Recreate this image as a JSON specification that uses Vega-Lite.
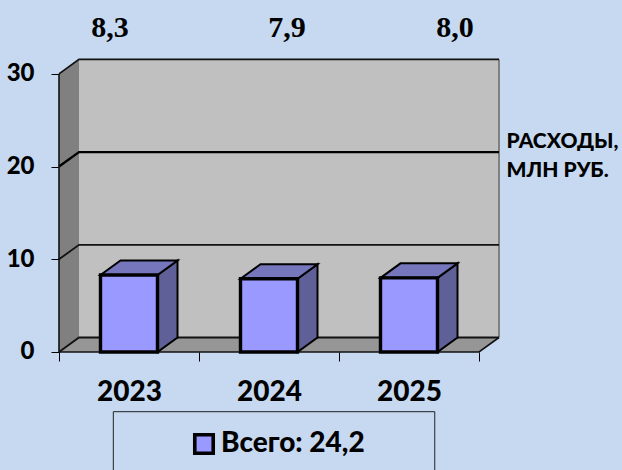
{
"$schema":"https://vega.github.io/schema/vega-lite/v6.json",
"width":622,"height":470,"padding":0,"autosize":"none",
"background":"#C6D9F1",
"config":{"view":{"stroke":null}},
"datasets":{
"bars":[{"year":2023,"value":8.3,"series":"Всего: 24,2"},{"year":2024,"value":7.9,"series":"Всего: 24,2"},{"year":2025,"value":8.0,"series":"Всего: 24,2"}],
"two":[{"t":0},{"t":1}],
"four":[{"t":0},{"t":1},{"t":2},{"t":3}],
"grid":[{"g":0,"t":0},{"g":0,"t":1},{"g":0,"t":2},{"g":10,"t":0},{"g":10,"t":1},{"g":10,"t":2},{"g":20,"t":0},{"g":20,"t":1},{"g":20,"t":2},{"g":30,"t":0},{"g":30,"t":1},{"g":30,"t":2}]
},
"encoding":{
"x":{"field":"X","type":"quantitative","scale":{"domain":[-0.42143,4.02143],"nice":false,"zero":false},
"axis":{"title":null,"orient":"bottom","offset":-118,"domain":false,"grid":false,"values":[0,0.5,1,1.5,2,2.5,3],"tickSize":9,"tickColor":"#000000","tickWidth":1,"tickOpacity":{"condition":{"test":"datum.value % 1 == 0","value":1},"value":0},"labelExpr":"datum.value==0.5?'2023':datum.value==1.5?'2024':datum.value==2.5?'2025':''","labelFont":"Lato","labelFontWeight":900,"labelFontSize":28,"labelColor":"#000000","labelPadding":17,"labelOverlap":false,"labelBound":false,"labelFlush":false}},
"y":{"field":"Y","type":"quantitative","scale":{"domain":[-12.73,37.97],"nice":false,"zero":false},
"axis":{"title":["РАСХОДЫ,","МЛН РУБ."],"titleAngle":0,"titleAlign":"left","titleBaseline":"alphabetic","titleX":447,"titleY":147,"titleFont":"Lato","titleFontWeight":900,"titleFontSize":21,"titleLineHeight":29,"titleColor":"#000000","orient":"left","offset":-59,"domain":false,"grid":false,"values":[0,10,20,30],"tickSize":8,"tickColor":"#000000","tickWidth":1,"labelFont":"Lato","labelFontWeight":900,"labelFontSize":24,"labelColor":"#000000","labelPadding":17,"labelOverlap":false,"labelBound":false,"labelFlush":false}}
},
"layer":[
{"data":{"name":"two"},"transform":[{"calculate":"0.142857+3*datum.t","as":"X"},{"calculate":"31.564","as":"Y"},{"calculate":"1.564","as":"Y2"}],
"mark":{"type":"area","fill":"#C0C0C0"},"encoding":{"y2":{"field":"Y2"}}},
{"data":{"name":"two"},"transform":[{"calculate":"0.142857*datum.t","as":"X"},{"calculate":"30+1.564*datum.t","as":"Y"},{"calculate":"1.564*datum.t","as":"Y2"}],
"mark":{"type":"area","fill":"#808080"},"encoding":{"y2":{"field":"Y2"}}},
{"data":{"name":"four"},"transform":[{"calculate":"[0,0.142857,3,3.142857][datum.t]","as":"X"},{"calculate":"datum.t==0?0:1.564","as":"Y"},{"calculate":"datum.t==3?1.564:0","as":"Y2"}],
"mark":{"type":"area","fill":"#969696"},"encoding":{"y2":{"field":"Y2"}}},
{"data":{"name":"two"},"transform":[{"calculate":"3.142857","as":"X"},{"calculate":"1.564+30*datum.t","as":"Y"}],
"mark":{"type":"line","stroke":"#808080","strokeWidth":2},"encoding":{"order":{"field":"t"}}},
{"data":{"name":"grid"},"transform":[{"filter":"datum.g!=20"},{"calculate":"[0,0.142857,3.142857][datum.t]","as":"X"},{"calculate":"datum.g+(datum.t>0?1.564:0)","as":"Y"}],
"mark":{"type":"line","stroke":"#111111","strokeWidth":1.8},"encoding":{"detail":{"field":"g"},"order":{"field":"t"}}},
{"data":{"name":"grid"},"transform":[{"filter":"datum.g==20"},{"calculate":"[0,0.142857,3.142857][datum.t]","as":"X"},{"calculate":"datum.g+(datum.t>0?1.564:0)","as":"Y"}],
"mark":{"type":"line","stroke":"#000000","strokeWidth":2.4},"encoding":{"order":{"field":"t"}}},
{"data":{"name":"two"},"transform":[{"calculate":"0","as":"X"},{"calculate":"30*datum.t","as":"Y"}],
"mark":{"type":"line","stroke":"#111111","strokeWidth":1.6},"encoding":{"order":{"field":"t"}}},
{"data":{"name":"four"},"transform":[{"filter":"datum.t<3"},{"calculate":"[0,3,3.142857][datum.t]","as":"X"},{"calculate":"datum.t==2?1.564:0","as":"Y"}],
"mark":{"type":"line","stroke":"#111111","strokeWidth":1.6},"encoding":{"order":{"field":"t"}}},
{"data":{"name":"two"},"transform":[{"calculate":"0.388+2.296*datum.t","as":"X"},{"calculate":"-6.44","as":"Y"},{"calculate":"-13.5","as":"Y2"}],
"mark":{"type":"area","fillOpacity":0,"stroke":"#222222","strokeWidth":1},"encoding":{"y2":{"field":"Y2"}}},
{"data":{"name":"bars"},"transform":[{"calculate":"[0,1]","as":"t"},{"flatten":["t"]},{"calculate":"datum.year-2023+0.5+0.2036+0.142857*datum.t","as":"X"},{"calculate":"datum.value+1.564*datum.t","as":"Y"},{"calculate":"1.564*datum.t","as":"Y2"}],
"mark":{"type":"area","fill":"#606099","stroke":"#000000","strokeWidth":2},"encoding":{"detail":{"field":"year"},"y2":{"field":"Y2"}}},
{"data":{"name":"bars"},"transform":[{"calculate":"[0,1,2,3]","as":"t"},{"flatten":["t"]},{"calculate":"datum.year-2023+0.5+[-0.2036,-0.0607,0.2036,0.3465][datum.t]","as":"X"},{"calculate":"datum.value+(datum.t==0?0:1.564)","as":"Y"},{"calculate":"datum.value+(datum.t==3?1.564:0)","as":"Y2"}],
"mark":{"type":"area","fill":"#7676BC","stroke":"#000000","strokeWidth":2},"encoding":{"detail":{"field":"year"},"y2":{"field":"Y2"}}},
{"data":{"name":"bars"},"transform":[{"calculate":"datum.year-2023+0.5-0.2036","as":"X"},{"calculate":"datum.year-2023+0.5+0.2036","as":"X2"},{"calculate":"datum.value","as":"Y"},{"calculate":"0","as":"Y2"}],
"mark":{"type":"rect","stroke":"#000000","strokeWidth":3.4},
"encoding":{"x2":{"field":"X2"},"y2":{"field":"Y2"},
"color":{"field":"series","type":"nominal","scale":{"range":["#9999FF"]},"legend":{"title":null,"orient":"none","legendX":190,"legendY":430,"symbolType":"square","symbolSize":340,"symbolStrokeColor":"#000000","symbolStrokeWidth":3.6,"symbolOpacity":1,"labelFont":"Lato","labelFontWeight":900,"labelFontSize":28,"labelColor":"#000000","labelOffset":3,"labelLimit":300,"padding":0}}}},
{"data":{"name":"bars"},"transform":[{"calculate":"replace(format(datum.value,'.1f'),'.',',')","as":"label"},{"calculate":"datum.year==2023?0.364:datum.year==2024?1.629:2.829","as":"X"},{"calculate":"34.9","as":"Y"}],
"mark":{"type":"text","font":"Liberation Serif","fontWeight":"bold","fontSize":30,"color":"#000000","align":"center","baseline":"middle"},
"encoding":{"text":{"field":"label"}}}
]
}
